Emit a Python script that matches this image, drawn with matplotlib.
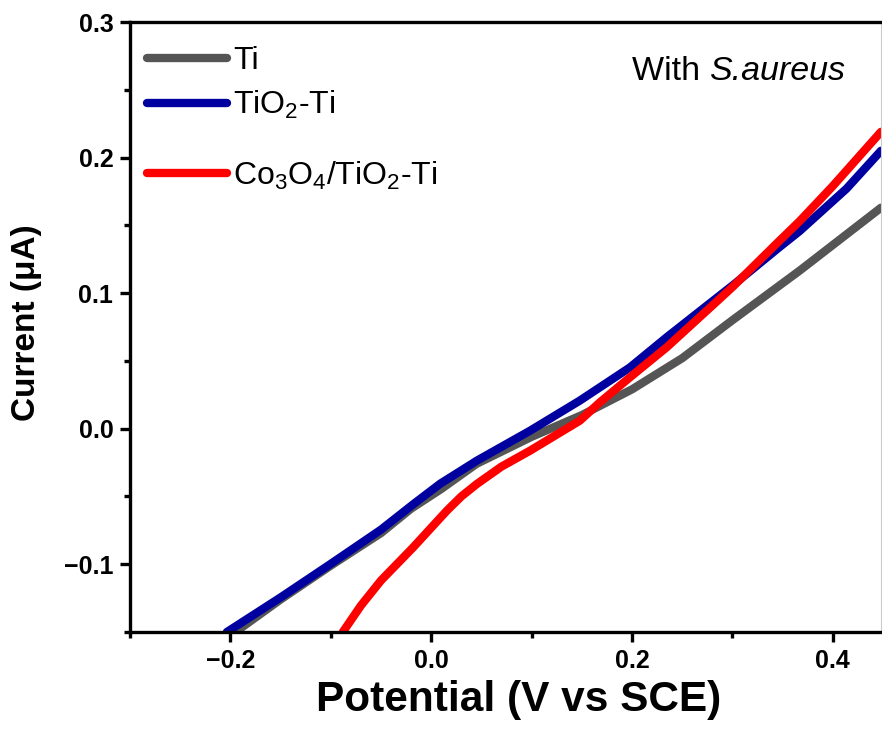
import matplotlib
matplotlib.use("Agg")
from matplotlib import pyplot as plt
from matplotlib.ticker import MultipleLocator

plt.rcParams['font.family'] = ['Liberation Sans', 'DejaVu Sans']
plt.rcParams['mathtext.default'] = 'regular'

# Data (potential in V vs SCE, current in uA)
ti_x = [-0.195, -0.15, -0.10, -0.05, -0.02, 0.01, 0.045, 0.10, 0.125,
        0.15, 0.20, 0.25, 0.30, 0.367, 0.448]
ti_y = [-0.150, -0.126, -0.101, -0.077, -0.059, -0.0445, -0.026, -0.006,
        0.002, 0.010, 0.029, 0.052, 0.080, 0.1166, 0.163]

tio2_x = [-0.2035, -0.15, -0.10, -0.05, -0.0176, 0.009, 0.0455, 0.0985,
          0.148, 0.198, 0.2345, 0.281, 0.3008, 0.347, 0.367, 0.4136, 0.448]
tio2_y = [-0.150, -0.1245, -0.0997, -0.0745, -0.0556, -0.0406, -0.0236,
          -0.0015, 0.0207, 0.0452, 0.0674, 0.0945, 0.106, 0.134, 0.1458,
          0.177, 0.205]

co_x = [-0.088, -0.07, -0.05, -0.018, 0.0156, 0.03, 0.0455, 0.07, 0.0985,
        0.148, 0.168, 0.198, 0.2345, 0.281, 0.3008, 0.347, 0.367, 0.40, 0.448]
co_y = [-0.150, -0.1305, -0.112, -0.0876, -0.0605, -0.050, -0.0408, -0.028,
        -0.0162, 0.0059, 0.0194, 0.0379, 0.060, 0.0915, 0.105, 0.1387,
        0.1531, 0.179, 0.219]

labels = ['Ti', 'TiO$_2$-Ti', 'Co$_3$O$_4$/TiO$_2$-Ti']
colors = ['#555555', '#0000a0', '#ff0000']

fig = plt.figure(figsize=(8.82, 7.42), dpi=100)
ax = fig.add_axes([130 / 882, 110 / 742, 751 / 882, 610 / 742])

lines = []
for xs, ys, lab, c in zip([ti_x, tio2_x, co_x], [ti_y, tio2_y, co_y],
                          labels, colors):
    ln, = ax.plot(xs, ys, color=c, lw=6, solid_capstyle='round',
                  solid_joinstyle='round', label=lab)
    lines.append(ln)

ax.set_xlim(-0.3, 0.448)
ax.set_ylim(-0.15, 0.3)
ax.xaxis.set_major_locator(MultipleLocator(0.2))
ax.xaxis.set_minor_locator(MultipleLocator(0.1))
ax.yaxis.set_major_locator(MultipleLocator(0.1))
ax.yaxis.set_minor_locator(MultipleLocator(0.05))
ax.xaxis.set_major_formatter(lambda v, p: f"{v:.1f}".replace('-', '\u2212'))
ax.yaxis.set_major_formatter(lambda v, p: f"{v:.1f}".replace('-', '\u2212'))

for side in ['left', 'bottom', 'top']:
    ax.spines[side].set_linewidth(2.4)
ax.spines['right'].set_linewidth(0.8)
ax.spines['right'].set_color('#cccccc')

ax.tick_params(which='major', direction='out', length=7, width=2.4,
               labelsize=18, pad=5)
ax.tick_params(which='minor', direction='out', length=4, width=2.4)
ax.tick_params(top=False, right=False)
for t in ax.get_xticklabels() + ax.get_yticklabels():
    t.set_fontweight('bold')

ax.set_xlabel('Potential (V vs SCE)', fontsize=30.5, fontweight='bold')
ax.set_ylabel('Current (\u03bcA)', fontsize=24, fontweight='bold')
ax.xaxis.set_label_coords(0.517, -0.079)
ax.yaxis.set_label_coords(-0.117, 0.507)

t1 = ax.text(0.668, 0.905, 'With ', transform=ax.transAxes,
             ha='left', va='baseline', fontsize=24.5)
ax.annotate('S.aureus', xy=(1, 0), xycoords=t1, ha='left', va='bottom',
            fontsize=24.5, style='italic')

leg1 = ax.legend(handles=lines[:2], loc='upper left',
                 bbox_to_anchor=(-0.007, 0.997), frameon=False, fontsize=23,
                 handlelength=2.5, handletextpad=0.2, labelspacing=0.4,
                 borderaxespad=0.3)
ax.add_artist(leg1)
ax.legend(handles=lines[2:], loc='upper left',
          bbox_to_anchor=(-0.007, 0.811), frameon=False, fontsize=23,
          handlelength=2.5, handletextpad=0.2, borderaxespad=0.3)

fig.savefig('out.png', dpi=100)
